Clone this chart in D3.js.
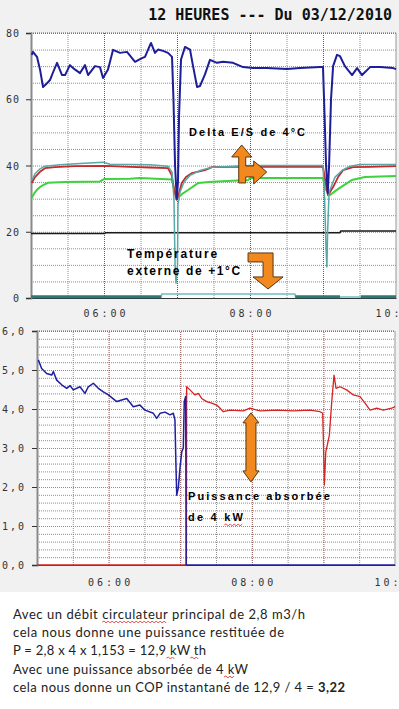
<!DOCTYPE html>
<html>
<head>
<meta charset="utf-8">
<script src="https://cdn.jsdelivr.net/npm/d3@7"></script>
<style>
body { margin: 0; background: #fff; }
svg { display: block; }
.tick text { font-family: "DejaVu Sans Mono", monospace; font-size: 10px; fill: #333; }
.ann { font-family: "Liberation Sans", Arial, sans-serif; font-weight: bold; fill: #000; }
.note { font-family: Lato, "Open Sans", sans-serif; font-size: 13px; fill: #222; }
</style>
</head>
<body>
<svg id="chart" width="399" height="709"></svg>
<script>
// minutes after 05:00, value
const debitBleu = [[0.6,73.4],[1.6,74.3],[4.9,72.8],[7.4,69],[9.9,63.7],[12.3,64.5],[15.6,65.8],[18,68],[21.4,71],[25.5,67.3],[28,67.3],[32,70.3],[36,69],[40.3,67.9],[44.4,70.3],[46.9,67.3],[52.6,70],[56.7,69.7],[59.2,66.4],[63.3,69],[67.4,74.9],[73.2,74],[78.9,74.3],[85.5,71.3],[91.2,72.4],[93.7,72.8],[98.6,77],[101.9,74],[104.4,75],[108.5,74.6],[112.6,74],[115.9,72.8],[117.1,60],[118.4,40],[119.8,30],[120.8,35],[121.7,55],[123.3,72],[126.6,75.8],[130.7,75],[133.2,70],[136.5,63.7],[138.9,64],[143,67.5],[147.1,71.9],[152.9,71],[157.8,71.3],[166,71],[174.3,69.7],[182.5,69.4],[194,69.4],[210.4,69.1],[221.1,69.4],[237.6,69.7],[240,69.7],[241.3,55],[242.5,40],[243.9,31.7],[245,40],[246.6,60],[248.3,70],[251.5,73.4],[254,73],[258,70],[260.6,68.8],[263.9,67.3],[268,69.4],[272.1,67.3],[278.7,69.7],[286.9,69.7],[297.6,69.4],[300,69.1]];
const sortieRouge = [[0.6,34.7],[3.3,36.5],[7.4,38.1],[11.5,39.2],[19.7,39.5],[36.2,39.8],[60.8,39.9],[81.4,39.6],[97.8,39.4],[112.6,39.2],[115.7,37],[117.5,33],[119.8,29.6],[121.2,31],[123.9,34.7],[127.4,36.5],[132.1,37.7],[143,38.6],[148.8,39.5],[163.6,39.6],[204.7,39.6],[240,39.6],[241.6,36],[244.1,31],[248.3,33.5],[252.4,36.5],[256.5,38.6],[264.7,39.5],[278.7,39.6],[300,39.8]];
const entreeTeal = [[0.6,35.5],[3.3,37.5],[7.4,39],[11.5,39.8],[23.8,40.2],[40.3,40.6],[59.2,41],[65,40.4],[97.8,40.2],[112.6,39.8],[115.9,38],[117.5,30],[118.4,10],[119.2,4.5],[120.4,10],[120.8,28],[122.5,32],[125.8,35],[130.7,37],[138.9,38.5],[148.8,39.5],[180,40],[240,40],[241.3,30],[242.5,15],[243.2,9.4],[243.8,20],[245,32],[249.9,36.5],[255.6,38.5],[262.2,39.8],[270.4,40.3],[300,40.3]];
const vertTemp = [[0.6,30.2],[2.5,31.5],[4.7,32.6],[7.4,33.5],[9.9,34.1],[14,34.8],[28,35],[56.7,35.2],[60,35.9],[81.4,36],[89.6,36.2],[115.7,35.8],[117.5,33],[119.2,30.5],[121.7,30.6],[124.9,31.6],[129.1,32.6],[137.3,34.7],[148.8,35.1],[178.4,35.6],[180,36.2],[240,36.2],[241.6,33],[245.8,31.1],[250.8,32.5],[255.4,33.6],[263.6,35.6],[274.5,36.5],[300,36.8]];
const exterieurNoir = [[0,19.5],[60.8,19.5],[61,19.7],[254,19.7],[254.5,20.2],[300,20.2]];
const tealBas = [[0,0.3],[107,0.3],[107.5,1.2],[217,1.2],[217.5,0.3],[300,0.3]];
const tealBasFonce = [[0,0.4],[107,0.4],[107.2,null],[217,null],[217.2,0.4],[254,0.4],[254.2,null],[271,null],[271.2,0.4],[300,0.4]];

const puissanceBleu = [[1.1,5.26],[3.9,5.04],[8.1,4.91],[12.3,4.87],[13.7,4.96],[16.5,4.74],[20.7,4.62],[24.9,4.53],[27.7,4.6],[30.4,4.49],[36,4.57],[40.2,4.4],[43,4.57],[47.2,4.66],[51.4,4.53],[55.6,4.44],[59.8,4.36],[66.8,4.19],[75.2,4.27],[80.7,4.06],[86.3,4.1],[90.5,3.97],[97.5,3.89],[100.3,3.76],[103.1,3.89],[107.3,3.92],[111.5,3.85],[114.2,3.89],[115.6,3.72],[116.5,2.48],[117.1,1.79],[118.4,1.97],[119.8,2.48],[121.3,2.9],[122.6,3.0],[123.4,4.19],[124.6,4.32],[125,0],[300,0]];
const puissanceRouge = [[0,0],[125.2,0],[125.4,4.57],[128.2,4.49],[132.4,4.36],[135.2,4.4],[138,4.27],[142.2,4.19],[146.4,4.15],[150.6,4.1],[153.4,4.02],[156.1,3.93],[161.7,3.97],[172.9,3.95],[178.5,4.02],[186.9,3.95],[200.9,3.97],[214.8,3.95],[228.8,3.97],[237.2,3.93],[239.4,3.89],[239.9,3.33],[240.8,2.05],[242,2.9],[243.3,3.08],[245,3.33],[247,4.19],[248.9,4.87],[250.6,4.53],[253.9,4.57],[259.5,4.49],[265.1,4.36],[270.7,4.32],[274.9,4.15],[279.1,3.97],[284.7,4.02],[290.2,3.97],[297.2,4.02],[300,4.06]];

const topTicks = [0, 20, 40, 60, 80];
const botTicks = [0, 1, 2, 3, 4, 5, 6];
const timeLabels = ["06:00", "08:00", "10:00"];
const titre = "12 HEURES --- Du 03/12/2010";
const notes = [
  "Avec un débit circulateur principal de 2,8 m3/h",
  "cela nous donne une puissance restituée de",
  "P = 2,8 x 4 x 1,153 = 12,9 kW th",
  "Avec une puissance absorbée de 4 kW",
  "cela nous donne un COP instantané de 12,9 / 4 = "
];

const base = new Date(2010, 11, 3, 5, 0);
const T = (m) => new Date(base.getTime() + m * 60000);
const parseHM = d3.timeParse("%H:%M");
const atDay = (s) => { const p = parseHM(s); return new Date(2010, 11, 3, p.getHours(), p.getMinutes()); };

const svg = d3.select("#chart");
svg.append("rect").attr("width", 399).attr("height", 592).attr("fill", "#f1f1f1");

svg.append("text")
   .text(titre)
   .attr("x", 392).attr("y", 20)
   .attr("text-anchor", "end")
   .style("font-family", "'DejaVu Sans Mono', monospace")
   .style("font-weight", "bold")
   .style("font-size", "15px")
   .attr("fill", "#111");

function panel(opt) {
  const x = d3.scaleTime().domain([T(0), T(300)]).range([opt.left, opt.right]);
  const y = d3.scaleLinear().domain([0, opt.max]).range([opt.bottom, opt.top]);
  const g = svg.append("g");
  g.append("rect")
   .attr("x", opt.left).attr("y", opt.top)
   .attr("width", opt.right - opt.left).attr("height", opt.bottom - opt.top)
   .attr("fill", "#fff");

  // horizontal grid
  g.append("g")
   .attr("transform", "translate(" + opt.left + ",0)")
   .call(d3.axisLeft(y).tickValues(opt.grid).tickSize(-(opt.right - opt.left)).tickFormat(""))
   .call(a => a.select(".domain").remove())
   .call(a => a.selectAll("line").attr("stroke", "#8c8c8c").attr("stroke-dasharray", "1,1"));

  // vertical grid, every 30 min, hours darker
  const halfHours = d3.timeMinute.every(30).range(T(30), T(300));
  g.append("g")
   .attr("transform", "translate(0," + opt.bottom + ")")
   .call(d3.axisBottom(x).tickValues(halfHours).tickSize(-(opt.bottom - opt.top)).tickFormat(""))
   .call(a => a.select(".domain").remove())
   .call(a => a.selectAll("line")
     .attr("stroke", (d) => d.getMinutes() === 0 ? "#8a4a4a" : "#8c8c8c")
     .attr("stroke-dasharray", "1,1"));

  // top border
  g.append("line")
   .attr("x1", opt.left).attr("x2", opt.right)
   .attr("y1", opt.top).attr("y2", opt.top)
   .attr("stroke", "#8a4a4a").attr("stroke-dasharray", "1,1");
  // right border
  g.append("line")
   .attr("x1", opt.right).attr("x2", opt.right)
   .attr("y1", opt.top).attr("y2", opt.bottom)
   .attr("stroke", "#999");

  // bottom axis
  g.append("g")
   .attr("transform", "translate(0," + opt.bottom + ")")
   .call(d3.axisBottom(x).tickValues(timeLabels.map(atDay)).tickSize(0).tickPadding(opt.xPad).tickFormat(d3.timeFormat("%H:%M")))
   .call(a => a.select(".domain").attr("stroke", "#333"))
   .call(a => a.selectAll("text").style("letter-spacing", "3px").attr("dx", "1.5"));

  // left axis
  g.append("g")
   .attr("transform", "translate(" + opt.left + ",0)")
   .call(d3.axisLeft(y).tickValues(opt.ticks).tickSize(5).tickPadding(opt.yPad).tickFormat(opt.fmt))
   .call(a => a.select(".domain").attr("stroke", "#8a8a8a").attr("stroke-width", 2))
   .call(a => a.selectAll(".tick line").attr("stroke", "#333"))
   .call(a => a.selectAll("text").style("letter-spacing", opt.ls).attr("dy", "0.35em"));

  return { x, y, g };
}

const topP = panel({ left: 31, right: 396, top: 33, bottom: 298, max: 80,
  grid: d3.range(0, 81, 5), ticks: topTicks, fmt: d3.format("d"), xPad: 12, yPad: 6, ls: "1px" });
const botP = panel({ left: 37, right: 395, top: 331, bottom: 565, max: 6,
  grid: d3.range(0, 31).map(i => i / 5), ticks: botTicks, fmt: (d) => d3.format(".1f")(d).replace(".", ","), xPad: 14, yPad: 6, ls: "2px" });

function drawLine(p, data, color, width) {
  const line = d3.line()
    .defined((d) => d[1] !== null)
    .x((d) => p.x(T(d[0])))
    .y((d) => p.y(d[1]));
  p.g.append("path")
    .datum(data)
    .attr("d", line)
    .attr("fill", "none")
    .attr("stroke", color)
    .attr("stroke-width", width)
    .attr("stroke-linejoin", "round");
}

drawLine(topP, tealBas, "#6cc0c0", 1.5);
drawLine(topP, tealBasFonce, "#2f7878", 3);
drawLine(topP, exterieurNoir, "#1a1a1a", 1.5);
drawLine(topP, vertTemp, "#3fd23f", 2);
drawLine(topP, sortieRouge, "#c42a2a", 1.8);
drawLine(topP, entreeTeal, "#5aa7a7", 1.5);
drawLine(topP, debitBleu, "#1e1e98", 2);

drawLine(botP, puissanceRouge, "#d42424", 1.3);
drawLine(botP, puissanceBleu, "#1f1fa0", 1.5);

// annotations
const arrowFill = "#f2891f", arrowLine = "#5a3510";
svg.append("path")
   .attr("transform", "translate(" + topP.x(T(173.2)) + "," + topP.y(46.2) + ")")
   .attr("d", "M0,0 L10,12 L4,12 L4,21 L12,21 L12,16 L25,27 L12,39 L12,32 L4,32 L4,38 L-3,38 L-3,12 L-10,12 Z")
   .attr("fill", arrowFill).attr("stroke", arrowLine).attr("stroke-width", 1);
svg.append("path")
   .attr("transform", "translate(" + topP.x(T(178.4)) + "," + topP.y(13.6) + ")")
   .attr("d", "M0,0 L25,0 L25,24 L35,24 L20,36 L5,24 L15,24 L15,9 L0,9 Z")
   .attr("fill", arrowFill).attr("stroke", arrowLine).attr("stroke-width", 1);
svg.append("path")
   .attr("transform", "translate(" + botP.x(T(179.3)) + "," + botP.y(3.9) + ")")
   .attr("d", "M0,0 L8,10 L5,10 L5,58 L8,58 L0,69 L-8,58 L-5,58 L-5,10 L-8,10 Z")
   .attr("fill", arrowFill).attr("stroke", arrowLine).attr("stroke-width", 1);

function ann(text, x, y, size, len) {
  return svg.append("text").attr("class", "ann")
    .attr("x", x).attr("y", y)
    .style("font-size", size + "px")
    .attr("textLength", len).attr("lengthAdjust", "spacing")
    .text(text);
}
ann("Delta E/S de 4°C", topP.x(T(129.9)), topP.y(48.9), 11, 116);
ann("Température", topP.x(T(79)), topP.y(12.2), 12, 90);
ann("externe de +1°C", topP.x(T(79)), topP.y(6.9), 12, 113);
ann("Puissance absorbée", botP.x(T(126.5)), botP.y(1.67), 11, 142);
const kwAnn = ann("de 4 kW", botP.x(T(126.5)), botP.y(1.13), 11, 55);

function squiggle(node, from, to, dy) {
  const x0 = node.getStartPositionOfChar(from).x;
  const x1 = node.getEndPositionOfChar(to).x;
  const yy = node.getStartPositionOfChar(from).y + dy;
  let d = "M" + x0 + "," + yy;
  let up = true;
  for (let xx = x0 + 2; xx <= x1; xx += 2) { d += " L" + xx + "," + (yy + (up ? -1 : 1)); up = !up; }
  svg.append("path").attr("d", d).attr("fill", "none").attr("stroke", "#e02020").attr("stroke-width", 0.8);
}
squiggle(kwAnn.node(), 5, 6, 4);

// notes below
const noteLens = [292, 271, 193, 235, 332];
const noteY = [619, 637, 655, 674, 692];
const noteNodes = notes.map((s, i) => {
  const t = svg.append("text").attr("class", "note")
    .attr("x", 13).attr("y", noteY[i])
    .attr("textLength", noteLens[i]).attr("lengthAdjust", "spacing");
  t.append("tspan").text(s);
  if (i === 4) t.append("tspan").style("font-weight", "bold").text("3,22");
  return t.node();
});
squiggle(noteNodes[0], 14, 24, 3);
squiggle(noteNodes[2], 26, 27, 3);
squiggle(noteNodes[2], 29, 30, 3);
squiggle(noteNodes[3], 32, 33, 3);
</script>
</body>
</html>
